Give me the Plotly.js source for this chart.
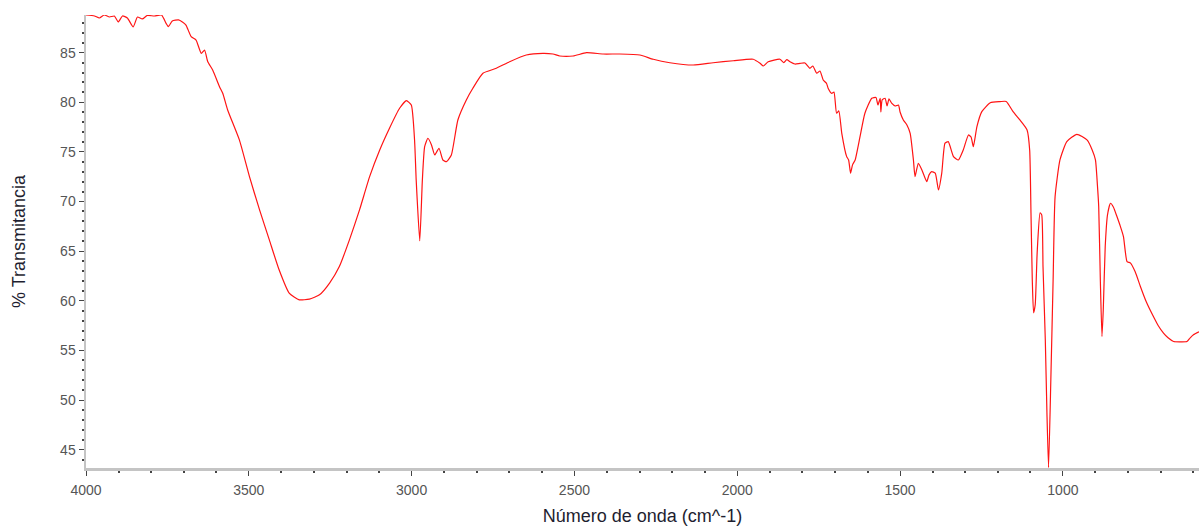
<!DOCTYPE html>
<html>
<head>
<meta charset="utf-8">
<script src="https://cdn.plot.ly/plotly-3.0.1.min.js"></script>
<style>
  html, body { margin: 0; padding: 0; background: #fff; }
  #chart { width: 1199px; height: 529px; }
</style>
</head>
<body>
<div id="chart"></div>
<script>
// Wavenumber (cm^-1)
const wavenumber = [
  4000, 3974, 3959, 3944, 3928, 3913, 3901, 3888, 3873, 3855, 3842, 3827, 3812, 3790, 3768,
  3754, 3747, 3735, 3716, 3704, 3693, 3677, 3662, 3646, 3636, 3626, 3611, 3590, 3580, 3565,
  3529, 3498, 3467, 3437, 3407, 3376, 3345, 3314, 3283, 3252, 3222, 3191, 3160, 3129, 3098,
  3068, 3037, 3016, 3001, 2991, 2986, 2975, 2967, 2960, 2950, 2939, 2929, 2916, 2904, 2893,
  2878, 2858, 2832, 2812, 2781, 2740, 2699, 2648, 2597, 2566, 2545, 2504, 2463, 2412, 2361,
  2299, 2258, 2207, 2135, 2074, 2012, 1951, 1930, 1920, 1905, 1869, 1857, 1848, 1838, 1823,
  1807, 1792, 1777, 1768, 1756, 1746, 1736, 1726, 1721, 1710, 1703, 1695, 1688, 1679, 1664,
  1658, 1652, 1646, 1638, 1623, 1608, 1587, 1574, 1568, 1561, 1559, 1555, 1546, 1540, 1534,
  1526, 1515, 1505, 1500, 1490, 1479, 1469, 1459, 1454, 1444, 1433, 1418, 1411, 1403, 1392,
  1382, 1372, 1362, 1352, 1336, 1321, 1306, 1290, 1282, 1275, 1264, 1249, 1223, 1193, 1174,
  1153, 1132, 1110, 1102, 1098, 1094, 1090, 1085, 1079, 1070, 1065, 1061, 1054, 1049, 1044,
  1037, 1030, 1024, 1009, 988, 957, 926, 910, 900, 894, 890, 885, 880, 876, 870,
  863, 854, 845, 834, 824, 814, 803, 793, 778, 762, 744, 722, 707, 691, 677,
  660, 640, 619, 609, 599, 582
];
// % Transmittance
const transmittance = [
  88.8, 88.7, 88.5, 88.8, 88.6, 88.7, 88.1, 88.7, 88.5, 87.6, 88.6, 88.4, 88.75, 88.7, 88.8,
  87.96, 87.62, 88.2, 88.3, 88.1, 87.79, 86.61, 86.28, 84.94, 85.27, 84.09, 83.26, 81.58, 80.91, 79.23,
  76.21, 72.51, 69.16, 66.14, 63.12, 60.77, 60.10, 60.17, 60.60, 61.78, 63.45, 66.14, 69.16, 72.51, 75.20,
  77.39, 79.40, 80.17, 79.73, 76.21, 72.18, 66.04, 72.18, 75.53, 76.38, 75.71, 74.70, 75.37, 74.19, 74.02,
  74.70, 78.22, 80.24, 81.42, 82.93, 83.43, 84.09, 84.77, 84.94, 84.87, 84.67, 84.67, 85.00, 84.87, 84.87,
  84.77, 84.34, 83.99, 83.76, 83.99, 84.19, 84.34, 83.93, 83.66, 84.09, 84.34, 84.0, 84.3, 84.09, 83.86,
  83.93, 83.96, 83.43, 83.66, 82.93, 83.16, 82.25, 81.92, 81.42, 80.91, 81.04, 78.90, 79.13, 76.88, 74.53,
  74.19, 72.86, 73.70, 74.19, 76.54, 78.90, 80.41, 80.49, 79.73, 80.41, 79.03, 80.24, 80.41, 79.63, 80.34,
  79.91, 79.63, 79.73, 79.03, 78.22, 77.72, 76.88, 74.19, 72.51, 73.86, 73.19, 72.01, 72.69, 73.02, 72.86,
  71.17, 72.86, 75.88, 76.04, 74.53, 74.19, 75.20, 76.71, 76.51, 75.53, 77.55, 79.06, 79.96, 80.07, 80.09,
  79.06, 78.22, 77.22, 75.2, 68.86, 62.11, 58.79, 59.6, 64.83, 68.86, 68.66, 63.42, 56.07, 48.72, 43.2,
  52.04, 62.11, 70.47, 74.19, 76.04, 76.78, 76.21, 75.2, 74.19, 71.67, 69.49, 62.11, 56.40, 59.1, 65.47,
  68.66, 69.83, 69.46, 68.49, 67.55, 66.47, 63.95, 63.82, 62.92, 61.44, 59.9, 58.41, 57.48, 56.74, 56.27,
  55.90, 55.87, 55.90, 56.27, 56.57, 56.87
];

const xTitle = "Número de onda (cm^-1)";
const yTitle = "% Transmitancia";

const tickFont = { family: "Liberation Sans, Arial, sans-serif", size: 14, color: "#555" };
const titleFont = { family: "Liberation Sans, Arial, sans-serif", size: 18, color: "#1e1e30" };

const trace = {
  x: wavenumber,
  y: transmittance,
  type: "scatter",
  mode: "lines",
  line: { color: "rgb(255,20,20)", width: 1.2, shape: "spline", smoothing: 0.5 },
  hoverinfo: "x+y"
};

const layout = {
  width: 1199,
  height: 529,
  margin: { l: 86, r: 0, t: 15, b: 61 },
  paper_bgcolor: "#fff",
  plot_bgcolor: "#fff",
  showlegend: false,
  xaxis: {
    range: [4000, 582],
    showgrid: false,
    zeroline: false,
    showline: true,
    linecolor: "#c4c4c4",
    linewidth: 2.5,
    ticks: "outside",
    ticklen: 5,
    tickwidth: 1,
    tickcolor: "#444",
    tick0: 0,
    dtick: 500,
    tickfont: tickFont,
    ticklabelstandoff: 3,
    minor: { dtick: 100, ticks: "outside", ticklen: 2, tickwidth: 2, tickcolor: "#444", showgrid: false },
    title: { text: xTitle, font: titleFont, standoff: 12 }
  },
  yaxis: {
    range: [43.15, 88.8],
    showgrid: false,
    zeroline: false,
    showline: true,
    linecolor: "#c4c4c4",
    linewidth: 2.5,
    ticks: "outside",
    ticklen: 5,
    tickwidth: 1,
    tickcolor: "#444",
    tick0: 0,
    dtick: 5,
    tickfont: tickFont,
    minor: { dtick: 1, ticks: "outside", ticklen: 2, tickwidth: 2, tickcolor: "#444", showgrid: false },
    title: { text: yTitle, font: titleFont, standoff: 30 }
  }
};

Plotly.newPlot("chart", [trace], layout, { displayModeBar: false, staticPlot: true });
</script>
</body>
</html>
